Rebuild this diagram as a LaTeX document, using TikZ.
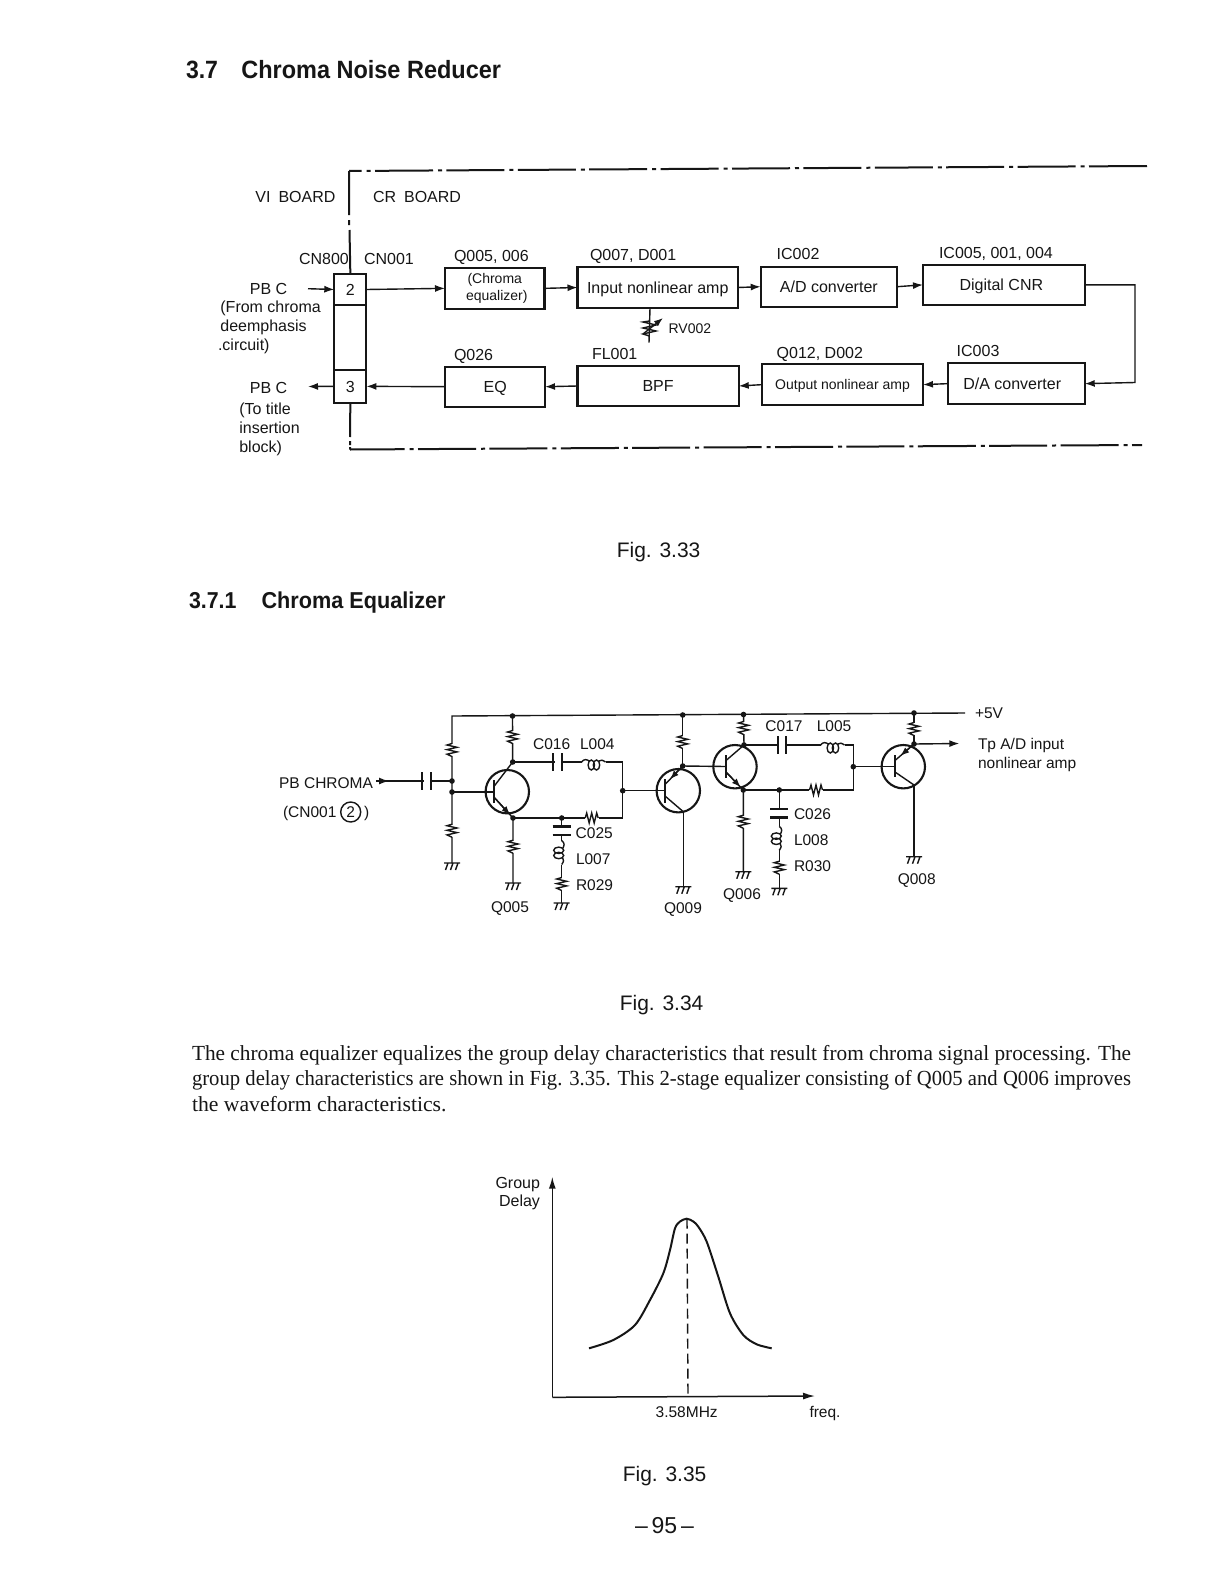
\documentclass[tikz,border=0pt]{standalone}
\usepackage{fontspec}
\usepackage{graphicx}
\setmainfont{Liberation Sans}
\newfontfamily\serifp{Liberation Serif}
\usetikzlibrary{arrows.meta,calc}
\newcommand\labf{\fontsize{16}{18}\selectfont}
\newcommand\labs{\fontsize{14}{16}\selectfont}
\newcommand\labc{\fontsize{15.5}{18}\selectfont}
\newcommand\figf{\fontsize{21}{24}\selectfont}
\definecolor{ink}{HTML}{161616}
\tikzset{
  x=1pt,y=-1pt,
  every node/.style={inner sep=0pt,outer sep=0pt,text=ink},
  even/.style={text height=#1,text depth=0pt},
  lab/.style={even=11.5pt,font=\labf,anchor=west},
  labm/.style={even=11.5pt,font=\labf,anchor=center},
  cir/.style={even=11.2pt,font=\labc,anchor=center},
  cirw/.style={even=11.2pt,font=\labc,anchor=west},
  figl/.style={even=15.1pt,font=\figf,anchor=center},
  head/.style={even=18pt,font=\fontsize{25}{28}\selectfont\bfseries,anchor=west},
  headb/.style={even=16.6pt,font=\fontsize{23}{26}\selectfont\bfseries,anchor=west},
  para/.style={even=15.5pt,font=\fontsize{21.5}{24}\serifp,anchor=west},
  bx/.style={draw=ink,line width=2.1pt,font=\labf,align=center},
  bxe/.style={bx,even=11.5pt},
  bxs/.style={bx,even=10pt,font=\labs},
  cell/.style={draw=ink,line width=2.1pt,font=\labf,minimum width=32.1pt,even=11.5pt},
  conn/.style={draw=ink,line width=1.4pt,-{Latex[length=10pt,width=7pt]}},
  wire/.style={draw=ink,line width=1.4pt},
  board/.style={draw=ink,line width=2pt},
  boardd/.style={board,dash pattern=on 58pt off 5pt on 4pt off 4.4pt},
  qcirc/.style={draw=ink,line width=2.1pt,circle,minimum size=43.4pt},
  qbar/.style={draw=ink,line width=2.2pt},
  tip/.style={draw=ink,line width=1.4pt,-{Latex[length=9pt,width=6.5pt]}},
  axis/.style={draw=ink,line width=1.5pt,-{Latex[length=12pt,width=7pt]}},
  vres/.pic={\fill[white](-3,-6) rectangle (3,6);
    \draw[wire,line join=miter] (0,-6.5)--(-5,-5)--(5,-2.7)--(-5,-0.4)--(5,1.9)--(-5,4.2)--(0,6.5);},
  hres/.pic={\fill[white](-7,-3) rectangle (7,3);
    \draw[wire] (-6.5,0)--(-5,-5)--(-2.5,5)--(0,-5)--(2.5,5)--(5,-5)--(6.5,0);},
  coil/.pic={\fill[white](-12,-3) rectangle (12,2);
    \draw[wire] (-12,0) .. controls (-9,-3.5) and (-7,-2.5) .. (-4,-1)
      (-2.2,3) ellipse [x radius=3.2,y radius=5]
      (3,3) ellipse [x radius=3.2,y radius=5]
      (5.5,-1) .. controls (7.5,-2.5) and (9,-2) .. (12,0);},
  gnd/.pic={\draw[wire] (-8,0)--(8,0) (-4,0)--(-6.5,7) (1,0)--(-1.5,7) (6,0)--(3.5,7);},
  hcap/.pic={\fill[white](-3,-2) rectangle (3,2);
    \draw[draw=ink,line width=2.1pt] (-4.3,-9)--(-4.3,9) (4.1,-9)--(4.1,9);},
  vcap/.pic={\fill[white](-2,-4) rectangle (2,4);
    \draw[draw=ink,line width=2.1pt] (-9,-4.5)--(9,-4.5) (-9,4.2)--(9,4.2);},
}
\newcommand\jdot[1]{\fill[ink] (#1) circle (2.8pt);}
\newcommand\fitl[2]{\resizebox{#1pt}{\height}{#2}}
\begin{document}
\begin{tikzpicture}
\useasboundingbox (0,0) rectangle (1223,1584);
\fill[white] (0,0) rectangle (1223,1584);

% ------ headings
\node[head] (h1a) at (186,70) {\fitl{32}{3.7}};
\node[head] (h1) at (241.4,70) {\fitl{259.6}{Chroma Noise Reducer}};
\node[headb] (h2a) at (189,600.5) {\fitl{47.5}{3.7.1}};
\node[headb] (h2) at (261.6,600.5) {\fitl{184}{Chroma Equalizer}};

% ------ Fig 3.33
\coordinate (bt0) at (349,171);
\coordinate (bt1) at (1148,166);
\coordinate (bb0) at (350,449.5);
\coordinate (bb1) at (1142,445);
\draw[boardd,dash phase=45.4pt] (bt0)--(bt1);
\draw[boardd,dash phase=3.4pt] (bb0)--(bb1);
\node[cell,minimum height=31pt] (c2) at (350.35,289.5) {2};
\node[cell,minimum height=65pt] (cm) at (350.35,337.5) {};
\node[cell,minimum height=32.7pt] (c3) at (350.35,386.35) {3};
\coordinate (vt1) at (349,215); \coordinate (vt2) at (349,220); \coordinate (vt3) at (349,225);
\coordinate (vt4) at (349.5,230);
\draw[board] (bt0)--(vt1) (vt2)--(vt3) (vt4)--(c2.north);
\coordinate (vb1) at (350,437); \coordinate (vb2) at (350,441); \coordinate (vb3) at (350,445);
\coordinate (vb4) at (350,447);
\draw[board] (c3.south)--(vb1) (vb2)--(vb3) (vb4)--(bb0);

\node[bx,minimum width=99.5pt,minimum height=40.7pt,font=\labs] (b1) at (494.75,288.35) {(Chroma\\[1pt]\hspace*{4pt}equalizer)};
\node[bxe,minimum width=160.5pt,minimum height=41pt] (b2) at (657.75,287.5) {Input nonlinear amp};
\node[bxe,minimum width=136.3pt,minimum height=40pt] (b3) at (828.85,286.7) {A/D converter};
\node[bxe,minimum width=161.7pt,minimum height=40.3pt] (b4) at (1003.85,284.85) {\hspace*{-5pt}Digital CNR};
\node[bxe,minimum width=99.6pt,minimum height=40pt] (b5) at (495.2,386.7) {EQ};
\node[bxe,minimum width=161.2pt,minimum height=40pt] (b6) at (658.1,386) {BPF};
\node[bxs,minimum width=161pt,minimum height=40.7pt] (b7) at (842.5,384.65) {Output nonlinear amp};
\node[bxe,minimum width=137pt,minimum height=40.7pt] (b8) at (1016.2,383.65) {\hspace*{-8pt}D/A converter};

\coordinate (pin) at (308,288.7);
\coordinate (pout) at (308,386.5);
\draw[conn] (pin)--(c2.west);
\draw[conn] (c2.east)--(b1.west);
\draw[conn] (b1.east)--(b2.west);
\draw[conn] (b2.east)--(b3.west);
\draw[conn] (b3.east)--(b4.west);
\coordinate (r1) at (1135,284.85);
\coordinate (r2) at (1135,382.5);
\draw[conn] (b4.east)--(r1)--(r2)--(b8.east);
\draw[conn] (b8.west)--(b7.east);
\draw[conn] (b7.west)--(b6.east);
\draw[conn] (b6.west)--(b5.east);
\draw[conn] (b5.west)--(c3.east);
\draw[conn] (c3.west)--(pout);

% RV002
\coordinate (rv0) at (650,308);
\coordinate (rv1) at (649,342.7);
\draw[wire] (rv0)--(rv1);
\draw[wire] (649.5,321)--(643,322)--(656,325)--(643,328)--(656,331)--(643,334)--(649.5,336);
\draw[tip] (643,334)--(663,318);

\node[lab] (t1) at (255.4,196.7) {VI\hspace{0.5em}BOARD};
\node[lab] (t2) at (373,196.7) {CR\hspace{0.5em}BOARD};
\node[lab] (t3) at (299,259) {CN800};
\node[lab] (t4) at (364,259) {CN001};
\node[lab] (t5) at (454,255.7) {Q005, 006};
\node[lab] (t6) at (590,255) {Q007, D001};
\node[lab] (t7) at (776.7,253.7) {IC002};
\node[lab] (t8) at (939,252.3) {IC005, 001, 004};
\node[lab] (t9) at (454,355) {Q026};
\node[lab] (t10) at (592,354) {FL001};
\node[lab] (t11) at (776.7,352.3) {Q012, D002};
\node[lab] (t12) at (956.7,351) {IC003};
\node[labm] (t13) at (268.6,289) {PB C};
\node[lab] (t14) at (220.4,306.7) {(From chroma};
\node[lab] (t15) at (220.4,326) {deemphasis};
\node[lab] (t16) at (218,345) {.circuit)};
\node[labm] (t17) at (268.6,387.3) {PB C};
\node[lab] (t18) at (239.3,408.3) {(To title};
\node[lab] (t19) at (239.3,427.7) {insertion};
\node[lab] (t20) at (239.3,446.7) {block)};
\node[lab,font=\labs] (t21) at (668.6,327.3) {RV002};
\node[figl] (f1) at (658.6,550) {Fig. 3.33};

% ------ Fig 3.34
\coordinate (rail0) at (452,716);
\coordinate (rail1) at (965,713);
\coordinate (a1) at (452,781);
\coordinate (a2) at (452,792);
\coordinate (a3) at (452,863);
\coordinate (inA) at (376,781);
\coordinate (inB) at (389,781);
\coordinate (q5r) at (512.5,716);
\coordinate (q5c) at (512.7,762);
\coordinate (q5e) at (513,818);
\coordinate (q5g) at (513,883);
\coordinate (c5) at (561.7,818);
\coordinate (c5g) at (561.7,903);
\coordinate (n1t) at (622.7,762);
\coordinate (n1m) at (622.7,790.7);
\coordinate (n1b) at (622.7,818);
\coordinate (q9r) at (682.7,715);
\coordinate (q9e) at (682.7,766);
\coordinate (q9c) at (683.3,811.7);
\coordinate (q9g) at (683.3,886.7);
\coordinate (q6r) at (743.5,714.5);
\coordinate (q6c) at (744,745);
\coordinate (q6e) at (743.3,790);
\coordinate (q6g) at (743.3,871.7);
\coordinate (c6) at (779.3,790);
\coordinate (c6g) at (779.3,888.3);
\coordinate (n2t) at (853.3,745);
\coordinate (n2m) at (853.3,766.7);
\coordinate (n2b) at (853.3,790);
\coordinate (q8r) at (914,713);
\coordinate (q8e) at (914,744);
\coordinate (q8c) at (914,785);
\coordinate (q8g) at (914,856.7);
\coordinate (outT) at (959.3,743.5);

\draw[wire] (a3)--(rail0)--(rail1);
\draw[wire] (inA)--(a1);
\draw[conn] (inA)--(inB);
% transistors
\node[qcirc] (Q5) at (507.3,791.7) {};
\node[qcirc] (Q9) at (678.3,790.7) {};
\node[qcirc] (Q6) at (735,766.7) {};
\node[qcirc] (Q8) at (903.3,766.7) {};
\coordinate (q5a) at (494.3,792); \coordinate (q5b1) at (494.3,780); \coordinate (q5b2) at (494.3,803);
\coordinate (q5cb) at (494.3,786); \coordinate (q5eb) at (494.3,797.5);
\draw[wire] (a2)--(q5a);
\draw[qbar] (q5b1)--(q5b2);
\draw[wire] (q5cb)--(q5c) (q5eb)--(q5e);
\draw[tip] (q5eb)--($(q5eb)!0.85!(q5e)$);
\draw[wire] (q5r)--(q5c) (q5e)--(q5g);
\coordinate (q9a) at (665,790.7); \coordinate (q9b1) at (665,779); \coordinate (q9b2) at (665,802.7);
\coordinate (q9eb) at (665,784.5); \coordinate (q9cb) at (665,796);
\draw[wire] (n1m)--(q9a);
\draw[qbar] (q9b1)--(q9b2);
\draw[wire] (q9e)--(q9eb) (q9cb)--(q9c);
\draw[tip] (q9e)--($(q9e)!0.72!(q9eb)$);
\draw[wire] (q9r)--(q9e) (q9c)--(q9g);
\coordinate (q6a) at (726,766.5); \coordinate (q6b1) at (726,755); \coordinate (q6b2) at (726,778);
\coordinate (q6cb) at (726,760.5); \coordinate (q6eb) at (726,772);
\draw[wire] (q9e)--(q6a);
\draw[qbar] (q6b1)--(q6b2);
\draw[wire] (q6cb)--(q6c) (q6eb)--(q6e);
\draw[tip] (q6eb)--($(q6eb)!0.85!(q6e)$);
\draw[wire] (q6r)--(q6c) (q6e)--(q6g);
\coordinate (q8a) at (895,766.7); \coordinate (q8b1) at (895,755.3); \coordinate (q8b2) at (895,777.3);
\coordinate (q8eb) at (895,760.5); \coordinate (q8cb) at (895,772);
\draw[wire] (n2m)--(q8a);
\draw[qbar] (q8b1)--(q8b2);
\draw[wire] (q8e)--(q8eb) (q8cb)--(q8c);
\draw[tip] (q8e)--($(q8e)!0.72!(q8eb)$);
\draw[wire] (q8r)--(q8e) (q8c)--(q8g);
\draw[conn] (q8e)--(outT);
% networks
\draw[wire] (q5c)--(n1t)--(n1b)--(q5e);
\draw[wire] (c5)--(c5g);
\draw[wire] (q6c)--(n2t)--(n2b)--(q6e);
\draw[wire] (c6)--(c6g);
% parts
\path (452,750) pic{vres} (452,830.7) pic{vres} (512.6,737) pic{vres} (513,846.7) pic{vres}
      (561.7,884) pic{vres} (682.7,742) pic{vres} (743.6,728) pic{vres} (743.3,821.7) pic{vres}
      (779.3,867.7) pic{vres} (914,729) pic{vres};
\path (591.7,818) pic{hres} (816,790) pic{hres};
\path (426.5,781) pic{hcap} (557.5,762) pic{hcap} (782,745) pic{hcap};
\path (561.7,831) pic{vcap} (779.3,813.3) pic{vcap};
\path (593.5,762) pic{coil} (832.5,745) pic{coil};
\path (561.7,852.5) pic[rotate=-90]{coil} (779.3,838.3) pic[rotate=-90]{coil};
\path (a3) pic{gnd} (q5g) pic{gnd} (c5g) pic{gnd} (q9g) pic{gnd} (q6g) pic{gnd} (c6g) pic{gnd} (q8g) pic{gnd};
\foreach \p in {a1,a2,q5r,q5c,q5e,c5,n1m,q9r,q9e,q6r,q6c,q6e,c6,n2m,q8r,q8e} {\jdot{\p}}

\node[even=11.2pt,font=\labc,anchor=east] (u1) at (373,782.7) {PB CHROMA};
\node[cirw] (u2) at (283,812) {(CN001};
\node[draw=ink,line width=1.4pt,circle,minimum size=20pt,font=\labc] (u3) at (350.7,812) {2};
\node[cir] (u4) at (366.7,812) {)};
\node[cir] (u5) at (551.7,744) {C016};
\node[cir] (u6) at (597.3,744) {L004};
\node[cirw] (u7) at (575.7,832.7) {C025};
\node[cirw] (u8) at (576,858.7) {L007};
\node[cirw] (u9) at (576,884.5) {R029};
\node[cir] (u10) at (510,907) {Q005};
\node[cir] (u11) at (683,908) {Q009};
\node[cir] (u12) at (742,894) {Q006};
\node[cir] (u13) at (916.7,879) {Q008};
\node[cir] (u14) at (784,725.7) {C017};
\node[cir] (u15) at (834,725.7) {L005};
\node[cirw] (u16) at (794,814) {C026};
\node[cirw] (u17) at (794,840) {L008};
\node[cirw] (u18) at (794,866) {R030};
\node[cirw] (u19) at (975,713) {+5V};
\node[cirw] (u20) at (978,744) {Tp A/D input};
\node[cirw] (u21) at (978,762.7) {nonlinear amp};
\node[figl] (f2) at (661.6,1003) {Fig. 3.34};

% ------ paragraph
\node[para] (p1) at (192,1052.4) {\fitl{939}{The chroma equalizer equalizes the group delay characteristics that result from chroma signal processing. The}};
\node[para] (p2) at (192,1078) {\fitl{939}{group delay characteristics are shown in Fig. 3.35. This 2-stage equalizer consisting of Q005 and Q006 improves}};
\node[para] (p3) at (192,1104) {\fitl{254.5}{the waveform characteristics.}};

% ------ Fig 3.35
\coordinate (o) at (552.3,1397.3);
\coordinate (yt) at (552.3,1176.7);
\coordinate (xt) at (815,1396);
\coordinate (pk) at (687,1218.7);
\coordinate (pb) at (688,1397);
\draw[axis] (o)--(yt);
\draw[axis] (o)--(xt);
\draw[draw=ink,line width=1.4pt,dash pattern=on 10pt off 5pt] (pk)--(pb);
\draw[draw=ink,line width=2pt] plot[smooth,tension=0.5] coordinates {(589,1348.3) (613.3,1340) (635,1325) (650,1300) (663.3,1273.3) (670,1250) (675,1228.3) (680,1221.5) (686.7,1218.7) (693.3,1221.5) (698.3,1226.7) (706.7,1241.7) (718.3,1276.7) (730,1313.3) (743.3,1335) (756.7,1344.3) (771.7,1348.3)};
\node[even=11.5pt,font=\labf,anchor=east] (g1) at (540,1182.7) {Group};
\node[even=11.5pt,font=\labf,anchor=east] (g2) at (540,1200.7) {Delay};
\node[cir] (g3) at (686.7,1412) {3.58MHz};
\node[cir] (g4) at (825,1412) {freq.};
\node[figl] (f3) at (664.6,1473.6) {Fig. 3.35};
\node[even=16.6pt,font=\fontsize{23}{26}\selectfont,anchor=center] (pg) at (664.5,1525) {--\,95\,--};
\end{tikzpicture}
\end{document}
